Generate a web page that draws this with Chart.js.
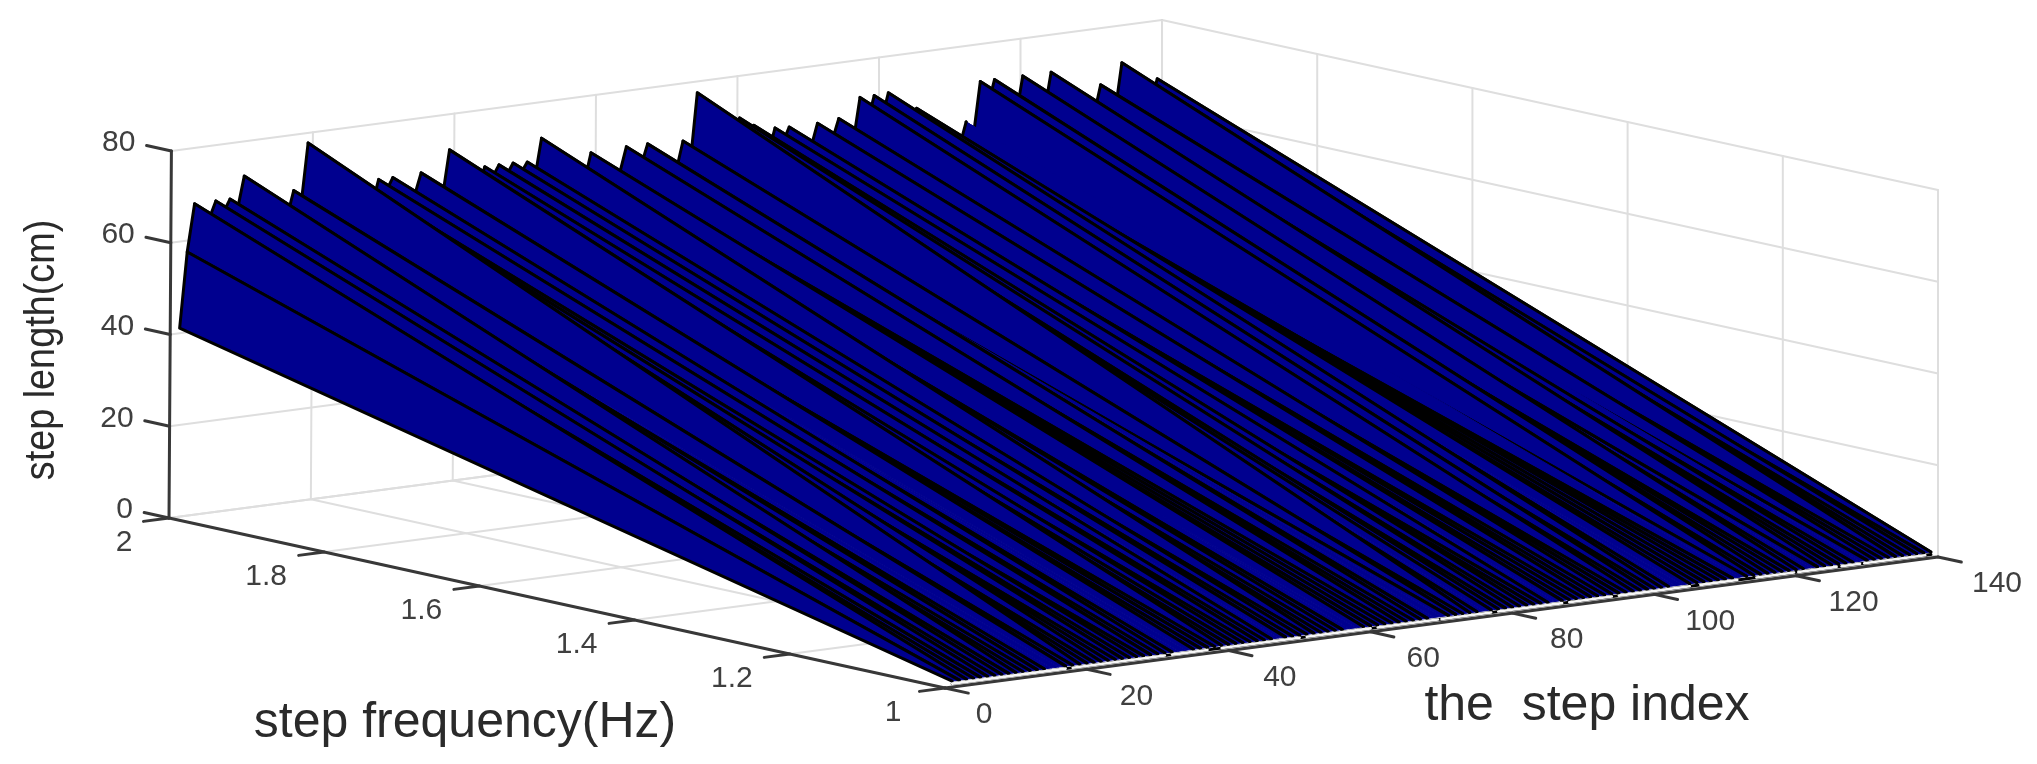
<!DOCTYPE html>
<html>
<head>
<meta charset="utf-8">
<style>html,body{margin:0;padding:0;background:#fff}canvas{display:block;filter:blur(0.6px)}</style>
<script src="https://cdn.jsdelivr.net/npm/chart.js@4/dist/chart.umd.min.js"></script>
</head>
<body>
<canvas id="c" width="2037" height="764"></canvas>
<script>
// step length (cm) at the high-frequency end of each step's ridge, steps 1..139
const stepLengths = [
 41.3,57.7,68,65,64,68,65,68,65,72.6,
 66,64,67,65,63,62,68,64,78,70,
 66,72,68,64,69,66,67,62,68,65,
 68,65,65,63,68.2,65,64,62,72.4,66,
 65,67,63,67.7,65,67.7,65,67.7,65,67.5,
 63,72.3,66,64,66,64,66,61,67.7,65,
 64,63,62,68,65,63,68,65,64,63,
 61,67.6,62,77.7,70,68,71,70,66,71,
 67,69,64,62,67.8,64,67.6,65,64,62,
 67.6,65,63,68,65,62,72,66,72,66,
 72.2,68,65,62,68,65,64,63,62,60,
 58,63.6,60,72,66,72,68,66,63,72,
 67,65,63,72,68,65,67,63,65,61,
 67.8,64,61,72,68,65,67,62,67.5
];
// steps whose ridge line does not stand out from the blue
const unlinedSteps = [15,16,33,34,47,57,58,69,70,76,86,103,104,112,122,129];
const lengthTicks = [0,20,40,60,80];
const freqTicks = [1,1.2,1.4,1.6,1.8,2];
const indexTicks = [0,20,40,60,80,100,120,140];
// stretches of the index axis where the pale strip shows through above the axis
const paleStretches = [[1,17],[18,31],[32,37],[39,50],[51,60],[61,69.5],[70,77],[78,87],[88,94],[95,105],[106.5,111.7],[114.4,119.7],[120.3,125.7],[126.4,129],[129.6,138.2]];
const titles = {x:'the  step index', y:'step frequency(Hz)', z:'step length(cm)'};

// fixed 3-D view of the (index, frequency, length) box
function view(i,f,z){
  return {x:169 + i*7.093 + (2-f)*776 + z*0.03*(1-i/140),
          y:518 - i*0.936 + (2-f)*170 - z*4.5875};
}
const ridgeF = 1.997, iMax = 140, zMax = 80, BLUE='#00008f', baseZ = 1.3, paleZ = 0.75;
const ds = [];
function line(pts,color,width,order){
  ds.push({type:'scatter',showLine:true,data:pts.map(p=>view(p[0],p[1],p[2])),borderColor:color,borderWidth:width,
    pointRadius:0,fill:false,order:order,tension:0,borderCapStyle:'round',borderJoinStyle:'round'});
}
const GRID='#dedede', AXIS='#383838';
// grid: floor, back walls
for(const f of freqTicks){
  line([[0,f,0],[iMax,f,0]],GRID,2,9000);
  line([[iMax,f,0],[iMax,f,zMax]],GRID,2,9000);
}
for(const i of indexTicks){
  line([[i,1,0],[i,2,0]],GRID,2,9000);
  line([[i,2,0],[i,2,zMax]],i===140?'#c4c4c4':GRID,2,9000);
}
for(const z of lengthTicks){
  line([[0,2,z],[iMax,2,z]],GRID,2,9000);
  line([[iMax,2,z],[iMax,1,z]],GRID,2,9000);
}
// surface strips, far to near: a blue fill, then its black edges
stepLengths.forEach((L,k)=>{
  const i=k+1, next=stepLengths[k+1];
  if(next===undefined){ line([[i,1,baseZ],[i,ridgeF,L]],'#000',3,1000+2*i); return; }
  const poly=[[i,1,baseZ],[i,ridgeF,L],[i+1,ridgeF,next],[i+1,1,baseZ],[i,1,baseZ]];
  ds.push({type:'scatter',showLine:true,data:poly.map(p=>view(p[0],p[1],p[2])),
    borderColor:BLUE,borderWidth:1,backgroundColor:BLUE,fill:'shape',
    pointRadius:0,tension:0,order:1000+2*i+1});
  const edge=[];
  if(!unlinedSteps.includes(i)) edge.push([i,1,baseZ]);
  edge.push([i,ridgeF,L],[i+1,ridgeF,next]);
  if(!unlinedSteps.includes(i+1)) edge.push([i+1,1,baseZ]);
  line(edge,'#000',3,1000+2*i);
});
// dark foot of the surface and the pale strip above the index axis
line([[1,1,paleZ],[stepLengths.length,1,paleZ]],'#000',3,60);
for(const s of paleStretches) line([[s[0],1,paleZ],[s[1],1,paleZ]],'#f6f6f6',2.6,50);
// axes
line([[0,2,0],[0,2,zMax]],AXIS,3,10);
line([[0,2,0],[0,1,0]],AXIS,3,10);
line([[0,1,0],[iMax,1,0]],AXIS,3,10);
for(const z of lengthTicks) line([[0,2,z],[0,2.032,z]],AXIS,3,10);
for(const f of freqTicks) line([[0,f,0],[-3.6,f,0]],AXIS,3,10);
for(const i of indexTicks) line([[i,1,0],[i,0.97,0]],AXIS,3,10);

const labels = {
  id:'labels3d',
  afterDraw(ch){
    const c=ch.ctx, sx=ch.scales.x, sy=ch.scales.y;
    const at=(p,dx,dy)=>[sx.getPixelForValue(p.x)+dx, sy.getPixelForValue(p.y)+dy];
    c.save();
    c.fillStyle='#3f3f3f'; c.textBaseline='middle';
    c.font='30px "Liberation Sans"';
    c.textAlign='right';
    for(const z of lengthTicks){const [x,y]=at(view(0,2,z),-36,-8); c.fillText(String(z),x,y);}
    c.textAlign='center';
    for(const f of freqTicks){
      const dx = f===2?-45:(f===1?-52:-58);
      const [x,y]=at(view(0,f,0),dx,25); c.fillText(String(f),x,y);
    }
    for(const i of indexTicks){
      const dx = i===0?39:48+(i/140)*11;
      const [x,y]=at(view(i,1,0),dx,27); c.fillText(String(i),x,y);
    }
    c.fillStyle='#2a2a2a'; c.textBaseline='alphabetic'; c.textAlign='center';
    c.font='50px "Liberation Sans"';
    c.fillText(titles.y,465,737);
    c.fillText(titles.x,1587,720);
    c.font='42px "Liberation Sans"';
    c.translate(54,350); c.rotate(-Math.PI/2); c.scale(0.9,1);
    c.fillText(titles.z,0,0);
    c.restore();
  }
};
new Chart(document.getElementById('c'),{
  data:{datasets:ds},
  plugins:[labels],
  options:{
    responsive:false,animation:false,devicePixelRatio:1,
    layout:{padding:0},
    plugins:{legend:{display:false},tooltip:{enabled:false},title:{display:false}},
    elements:{point:{radius:0}},
    scales:{
      x:{type:'linear',min:0,max:2037,display:false},
      y:{type:'linear',min:0,max:764,reverse:true,display:false}
    }
  }
});
</script>
</body>
</html>
